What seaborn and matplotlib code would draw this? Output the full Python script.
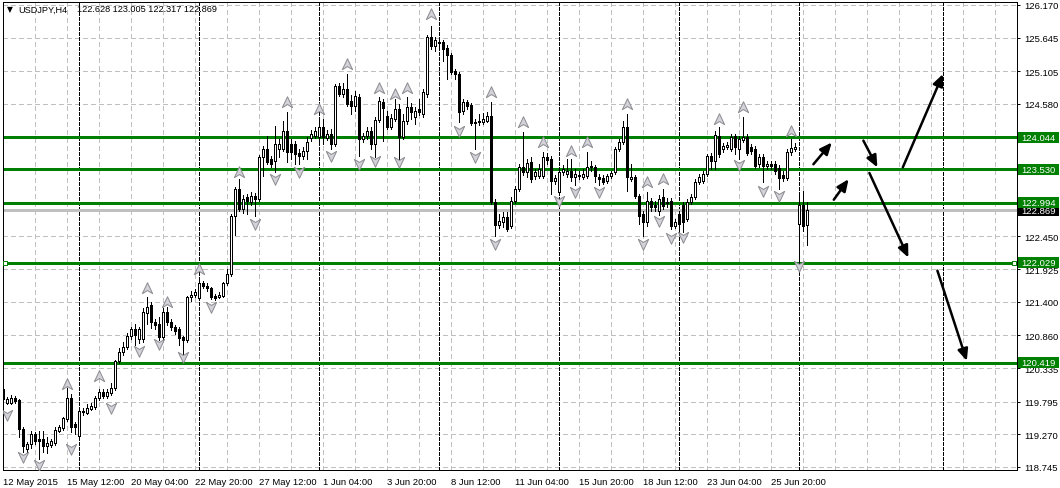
import matplotlib
matplotlib.use("Agg")
import numpy as np
import pandas as pd
import matplotlib.pyplot as plt
import seaborn as sns
from matplotlib.path import Path
from matplotlib.patches import Rectangle
from matplotlib.transforms import blended_transform_factory

# ---------------- data ----------------
symbol_title = "USDJPY,H4"
last_ohlc_text = "122.628 123.005 122.317 122.869"

opens = [120.00, 119.78, 119.77, 119.86, 119.82, 119.36, 119.04, 119.11, 119.27, 119.19,
         119.19, 119.08, 119.10, 119.13, 119.33, 119.37, 119.52, 119.85, 119.43, 119.25,
         119.63, 119.62, 119.67, 119.71, 119.85, 119.95, 119.89, 119.93, 120.01, 120.45,
         120.59, 120.67, 120.85, 120.96, 120.80, 120.80, 121.22, 121.34, 121.07, 121.04,
         120.84, 121.24, 121.08, 121.00, 120.96, 120.83, 120.78, 121.47, 121.51, 121.46,
         121.70, 121.66, 121.62, 121.49, 121.48, 121.50, 121.70, 121.85, 122.78, 123.21,
         122.89, 123.08, 123.00, 123.10, 123.05, 123.73, 123.86, 123.69, 123.66, 123.86,
         123.86, 124.14, 123.94, 123.94, 123.79, 123.74, 123.82, 124.03, 124.06, 124.05,
         124.21, 124.03, 124.10, 123.94, 124.87, 124.74, 124.82, 124.63, 124.55, 124.69,
         124.02, 124.06, 124.14, 123.94, 124.32, 124.61, 124.39, 124.21, 124.34, 124.50,
         124.05, 124.31, 124.53, 124.37, 124.50, 124.42, 124.74, 125.66, 125.51, 125.57,
         125.57, 125.48, 125.37, 125.11, 125.06, 124.47, 124.61, 124.56, 124.29, 124.29,
         124.29, 124.31, 124.39, 123.00, 122.63, 122.68, 122.76, 122.62, 123.02, 123.21,
         123.57, 123.49, 123.65, 123.42, 123.42, 123.42, 123.73, 123.69, 123.34, 123.16,
         123.49, 123.45, 123.50, 123.40, 123.42, 123.40, 123.42, 123.57, 123.57, 123.40,
         123.39, 123.34, 123.42, 123.49, 123.86, 123.97, 124.21, 123.37, 123.40, 123.10,
         122.81, 122.68, 123.02, 122.96, 122.86, 123.08, 123.00, 123.02, 122.62, 122.81,
         122.96, 122.73, 123.00, 123.08, 123.32, 123.34, 123.45, 123.74, 123.66, 124.06,
         123.86, 123.89, 123.86, 124.06, 123.86, 124.00, 124.05, 123.89, 123.86, 123.61,
         123.73, 123.58, 123.61, 123.61, 123.55, 123.44, 123.39, 123.81, 123.86, 122.65,
         122.96, 122.628]

highs = [120.03, 119.87, 119.90, 119.88, 119.84, 119.38, 119.15, 119.32, 119.30, 119.33,
         119.32, 119.23, 119.20, 119.38, 119.42, 119.55, 120.01, 119.92, 119.46, 119.66,
         119.70, 119.75, 119.78, 119.88, 120.00, 119.99, 119.99, 120.10, 120.47, 120.66,
         120.75, 120.90, 121.00, 121.04, 121.00, 121.30, 121.48, 121.40, 121.12, 121.15,
         121.30, 121.32, 121.12, 121.03, 121.00, 120.85, 121.50, 121.57, 121.60, 121.78,
         121.74, 121.70, 121.64, 121.52, 121.55, 121.72, 121.92, 122.81, 123.24, 123.37,
         123.12, 123.13, 123.16, 123.15, 123.76, 123.90, 124.06, 123.74, 124.22, 124.02,
         124.31, 124.45, 124.02, 123.98, 123.86, 123.89, 124.05, 124.16, 124.21, 124.37,
         124.34, 124.16, 124.18, 124.90, 124.92, 124.92, 125.06, 124.72, 124.79, 124.74,
         124.11, 124.21, 124.21, 124.37, 124.69, 124.66, 124.47, 124.42, 124.66, 124.58,
         124.42, 124.69, 124.60, 124.53, 124.66, 124.82, 125.69, 125.83, 125.66, 125.62,
         125.61, 125.53, 125.40, 125.14, 125.09, 124.66, 124.64, 124.60, 124.34, 124.42,
         124.43, 124.45, 124.61, 123.05, 122.81, 122.84, 122.84, 123.08, 123.26, 123.61,
         124.13, 123.69, 123.73, 123.53, 123.61, 123.81, 123.79, 123.74, 123.44, 123.57,
         123.60, 123.69, 123.69, 123.53, 123.50, 123.53, 123.81, 123.66, 123.60, 123.45,
         123.44, 123.45, 123.50, 123.89, 124.02, 124.31, 124.42, 123.61, 123.44, 123.13,
         122.86, 123.16, 123.07, 123.02, 123.12, 123.21, 123.07, 123.07, 122.73, 122.86,
         123.00, 123.05, 123.13, 123.37, 123.45, 123.50, 123.77, 123.79, 124.14, 124.21,
         123.95, 123.97, 124.10, 124.10, 124.06, 124.37, 124.10, 123.94, 123.90, 123.77,
         123.77, 123.66, 123.66, 123.66, 123.60, 123.50, 123.86, 124.02, 123.95, 123.16,
         123.18, 123.005]

lows = [119.78, 119.76, 119.75, 119.78, 119.22, 118.98, 118.98, 119.05, 119.12, 118.87,
        118.98, 118.97, 119.06, 119.10, 119.30, 119.34, 119.48, 119.30, 119.28, 119.22,
        119.58, 119.60, 119.66, 119.68, 119.82, 119.86, 119.85, 119.90, 119.98, 120.42,
        120.55, 120.64, 120.80, 120.70, 120.74, 120.75, 121.05, 120.98, 120.97, 120.78,
        120.80, 121.03, 120.95, 120.88, 120.70, 120.56, 120.75, 121.42, 121.48, 121.44,
        121.62, 121.57, 121.44, 121.43, 121.46, 121.47, 121.67, 121.81, 122.47, 122.86,
        122.83, 122.81, 122.96, 122.78, 123.02, 123.42, 123.61, 123.57, 123.49, 123.73,
        123.82, 123.65, 123.69, 123.61, 123.61, 123.69, 123.69, 123.98, 124.03, 123.94,
        123.94, 124.00, 123.86, 123.90, 124.71, 124.69, 124.55, 124.42, 124.47, 123.74,
        123.97, 124.02, 123.86, 123.73, 124.29, 123.98, 124.18, 124.18, 124.31, 123.69,
        124.02, 124.26, 124.34, 124.26, 124.40, 124.37, 124.69, 125.46, 125.43, 125.49,
        125.27, 124.98, 125.06, 124.98, 124.29, 124.42, 124.50, 124.24, 123.86, 124.24,
        124.26, 124.29, 122.97, 122.46, 122.58, 122.60, 122.54, 122.58, 122.99, 123.18,
        123.44, 123.40, 123.32, 123.37, 123.39, 123.39, 123.61, 123.13, 123.29, 123.12,
        123.44, 123.40, 123.34, 123.28, 123.37, 123.37, 123.39, 123.50, 123.32, 123.28,
        123.29, 123.31, 123.39, 123.45, 123.82, 123.94, 123.18, 123.34, 123.07, 122.65,
        122.46, 122.62, 122.86, 122.86, 122.79, 122.89, 122.92, 122.57, 122.58, 122.52,
        122.52, 122.70, 122.97, 123.05, 123.29, 123.31, 123.42, 123.53, 123.53, 123.73,
        123.81, 123.86, 123.82, 123.77, 123.69, 123.97, 123.76, 123.77, 123.55, 123.57,
        123.32, 123.53, 123.53, 123.45, 123.21, 123.34, 123.36, 123.76, 123.82, 122.03,
        122.54, 122.317]

closes = [119.83, 119.84, 119.86, 119.80, 119.35, 119.08, 119.12, 119.27, 119.16, 119.16,
          119.08, 119.13, 119.16, 119.34, 119.39, 119.53, 119.86, 119.39, 119.39, 119.64,
          119.64, 119.69, 119.72, 119.85, 119.95, 119.89, 119.95, 120.01, 120.45, 120.59,
          120.67, 120.85, 120.96, 120.86, 120.96, 121.23, 121.31, 121.07, 121.02, 120.84,
          121.23, 121.08, 121.00, 120.93, 120.82, 120.78, 121.47, 121.51, 121.55, 121.70,
          121.65, 121.62, 121.47, 121.46, 121.51, 121.70, 121.85, 122.78, 123.21, 122.89,
          123.05, 123.02, 123.10, 123.05, 123.73, 123.86, 123.65, 123.61, 123.94, 123.94,
          124.14, 123.81, 123.81, 123.77, 123.74, 123.82, 123.97, 124.10, 124.14, 124.21,
          124.05, 124.10, 123.94, 124.87, 124.74, 124.82, 124.58, 124.55, 124.71, 124.02,
          124.06, 124.14, 123.94, 124.32, 124.63, 124.51, 124.21, 124.35, 124.50, 124.05,
          124.31, 124.53, 124.45, 124.47, 124.45, 124.77, 125.66, 125.51, 125.61, 125.56,
          125.46, 125.37, 125.09, 125.06, 124.45, 124.61, 124.55, 124.27, 124.27, 124.31,
          124.34, 124.39, 123.00, 122.63, 122.70, 122.76, 122.57, 123.02, 123.21, 123.57,
          123.49, 123.63, 123.37, 123.49, 123.53, 123.73, 123.68, 123.34, 123.39, 123.49,
          123.53, 123.50, 123.40, 123.45, 123.44, 123.45, 123.57, 123.58, 123.42, 123.37,
          123.32, 123.42, 123.47, 123.86, 123.97, 124.21, 123.40, 123.40, 123.10, 122.78,
          122.68, 123.02, 122.92, 122.92, 123.05, 122.94, 122.99, 122.62, 122.68, 122.65,
          122.68, 123.00, 123.08, 123.32, 123.40, 123.45, 123.74, 123.66, 124.08, 123.77,
          123.90, 123.92, 124.05, 123.89, 124.02, 124.05, 123.79, 123.82, 123.58, 123.73,
          123.58, 123.61, 123.58, 123.50, 123.39, 123.39, 123.81, 123.87, 123.89, 122.96,
          122.62, 122.869]

fractal_up_bar = [16, 24, 36, 41, 49, 59, 71, 79, 86, 94, 98, 101, 107, 122, 130, 135,
                  142, 146, 156, 161, 165, 179, 185, 197]
fractal_up_price = [120.08, 120.21, 121.62, 121.40, 121.93, 123.49, 124.61, 124.50, 125.22,
                    124.84, 124.74, 124.84, 126.03, 124.77, 124.29, 123.97, 123.82, 123.97,
                    124.58, 123.32, 123.37, 124.34, 124.53, 124.15]
fractal_dn_bar = [1, 5, 9, 17, 27, 34, 39, 45, 52, 63, 68, 74, 82, 89, 93, 99, 114, 118,
                  123, 139, 143, 149, 160, 164, 167, 170, 184, 190, 194, 199]
fractal_dn_price = [119.58, 118.91, 118.77, 119.03, 119.69, 120.61, 120.72, 120.52, 121.32,
                    122.65, 123.37, 123.49, 123.75, 123.61, 123.67, 123.65, 124.15, 123.73,
                    122.33, 123.02, 123.17, 123.17, 122.33, 122.70, 122.42, 122.44, 123.60,
                    123.18, 123.10, 121.98]

level_prices = [124.044, 123.530, 122.994, 122.029, 120.419]
bid_price = 122.869

y_ticks = [126.170, 125.645, 125.105, 124.580, 124.055, 123.515, 122.990, 122.450,
           121.925, 121.400, 120.860, 120.335, 119.795, 119.270, 118.745]
y_hidden = [124.055, 123.515, 122.990]

x_tick_bars = [0, 16, 32, 48, 64, 80, 96, 112, 128, 144, 160, 176, 192]
x_tick_labels = ["12 May 2015", "15 May 12:00", "20 May 04:00", "22 May 20:00",
                 "27 May 12:00", "1 Jun 04:00", "3 Jun 20:00", "8 Jun 12:00",
                 "11 Jun 04:00", "15 Jun 20:00", "18 Jun 12:00", "23 Jun 04:00",
                 "25 Jun 20:00"]
separator_bars = [19, 49, 79, 109, 139, 169, 199, 235]

arrow_x0 = [202.5, 207.6, 215.0, 216.5, 224.85, 233.5]
arrow_p0 = [123.61, 123.04, 123.99, 123.47, 123.56, 121.90]
arrow_x1 = [207.1, 211.3, 218.5, 226.25, 234.9, 240.85]
arrow_p1 = [123.96, 123.37, 123.56, 122.11, 125.06, 120.45]

# ---------------- style ----------------
sns.set_style("white")
plt.rcParams["font.family"] = ["Liberation Sans", "DejaVu Sans"]
plt.rcParams["lines.scale_dashes"] = False

PX = 0.72  # one pixel in points at 100 dpi
GREEN = "#008000"
GRID = "#C0C0C0"
FS = 6.8

df = pd.DataFrame({"open": opens, "high": highs, "low": lows, "close": closes})
df["bar"] = np.arange(len(df))

fig = plt.figure(figsize=(10.6, 4.89), dpi=100)
ax = fig.add_axes([3 / 1060, 1 - 471 / 489, 1014 / 1060, 468.5 / 489])
ax.set_xlim(-0.075, 253.4)
ax.set_ylim(118.696, 126.226)
ax.set_facecolor("white")

# grid
for v in y_ticks:
    ax.axhline(v, color=GRID, lw=PX, ls=(0, (2.9, 2.2)), zorder=0.5, antialiased=False)
for b in range(0, 254, 8):
    ax.axvline(b, color=GRID, lw=PX, ls=(0, (2.9, 2.2)), zorder=0.5, antialiased=False)
for b in separator_bars:
    ax.axvline(b, color="black", lw=PX, ls=(0, (2.2, 1.4)), zorder=0.8, antialiased=False)

# level lines
ax.axhline(bid_price, color=GRID, lw=PX * 1.2, zorder=0.9, antialiased=False)
for p in level_prices:
    ax.axhline(p, color=GREEN, lw=PX * 1.2, zorder=1.0, antialiased=False)

# candles
ax.vlines(df["bar"], df["low"], df["high"], color="black", lw=PX, zorder=2, antialiased=False)
body_bottom = np.minimum(df["open"], df["close"])
body_height = np.maximum(np.abs(df["close"] - df["open"]), 0.004)
face = np.where(df["close"] >= df["open"], "white", "black")
ax.bar(df["bar"], body_height, bottom=body_bottom, width=0.5, color=face,
       edgecolor="black", linewidth=PX, zorder=3, antialiased=False)

# fractals
up_path = Path([(0, 0.5), (0.45, -0.45), (0, -0.18), (-0.45, -0.45), (0, 0.5)],
               [Path.MOVETO, Path.LINETO, Path.LINETO, Path.LINETO, Path.CLOSEPOLY])
dn_path = Path([(0, -0.5), (0.45, 0.45), (0, 0.18), (-0.45, 0.45), (0, -0.5)],
               [Path.MOVETO, Path.LINETO, Path.LINETO, Path.LINETO, Path.CLOSEPOLY])
sns.scatterplot(x=fractal_up_bar, y=fractal_up_price, marker=up_path, s=68,
                color="#D2D2D8", edgecolor="#8A8A90", linewidth=0.7, ax=ax,
                zorder=4, legend=False)
sns.scatterplot(x=fractal_dn_bar, y=fractal_dn_price, marker=dn_path, s=68,
                color="#D2D2D8", edgecolor="#8A8A90", linewidth=0.7, ax=ax,
                zorder=4, legend=False)

# selection handles on the 122.029 line
ax.scatter([0.5, 252.75], [level_prices[3], level_prices[3]], marker="s", s=10,
           facecolor="white", edgecolor=GREEN, linewidths=0.7, zorder=6, clip_on=False)

# projection arrows
for x0, p0, x1, p1 in zip(arrow_x0, arrow_p0, arrow_x1, arrow_p1):
    ax.annotate("", xy=(x1, p1), xytext=(x0, p0),
                arrowprops=dict(arrowstyle="-|>,head_length=0.5,head_width=0.22",
                                color="black", lw=1.8, shrinkA=0, shrinkB=0,
                                mutation_scale=14),
                zorder=8, annotation_clip=False)

# axes / ticks
for s in ax.spines.values():
    s.set_visible(True)
    s.set_color("black")
    s.set_linewidth(PX)
ax.yaxis.tick_right()
ax.set_yticks(y_ticks)
ax.set_yticklabels(["" if v in y_hidden else f"{v:.3f}" for v in y_ticks])
ax.tick_params(axis="y", which="both", left=False, right=True, labelleft=False,
               labelright=True, length=2.5, width=PX, pad=2.5, labelsize=FS,
               colors="black", direction="out")
ax.set_xticks(x_tick_bars)
ax.set_xticklabels(x_tick_labels)
for lbl in ax.get_xticklabels():
    lbl.set_ha("left")
ax.tick_params(axis="x", length=2.5, width=PX, pad=2.5, labelsize=FS,
               colors="black", direction="out")
ax.set_xlabel("")
ax.set_ylabel("")

# price boxes on the right axis
trans = blended_transform_factory(ax.transAxes, ax.transData)
box_h = 11 * 0.016071
box_w = 41 / 1014
x_box = 1.0 + 0.5 / 1014
x_txt = 1.0 + 4.5 / 1014
ax.add_patch(Rectangle((x_box, bid_price - box_h / 2), box_w, box_h, transform=trans,
                       facecolor="black", edgecolor="none", clip_on=False, zorder=5.0))
ax.text(x_txt, bid_price, f"{bid_price:.3f}", transform=trans, color="white",
        fontsize=FS, va="center", ha="left", clip_on=False, zorder=5.1)
for p in level_prices:
    ax.add_patch(Rectangle((x_box, p - box_h / 2), box_w, box_h, transform=trans,
                           facecolor=GREEN, edgecolor="none", clip_on=False, zorder=6.0))
    ax.text(x_txt, p, f"{p:.3f}", transform=trans, color="white", fontsize=FS,
            va="center", ha="left", clip_on=False, zorder=6.1)

# title
ax.text(4 / 1014, 0.984, "\u25bc", transform=ax.transAxes, fontsize=5.5,
        va="center", ha="left", color="black", family=["DejaVu Sans"])
ax.text(15 / 1014, 0.984, symbol_title, transform=ax.transAxes, fontsize=6.6,
        va="center", ha="left", color="black")
ax.text(74 / 1014, 0.984, last_ohlc_text, transform=ax.transAxes, fontsize=6.6,
        va="center", ha="left", color="black")

fig.savefig("out.png", dpi=100, facecolor="white")
